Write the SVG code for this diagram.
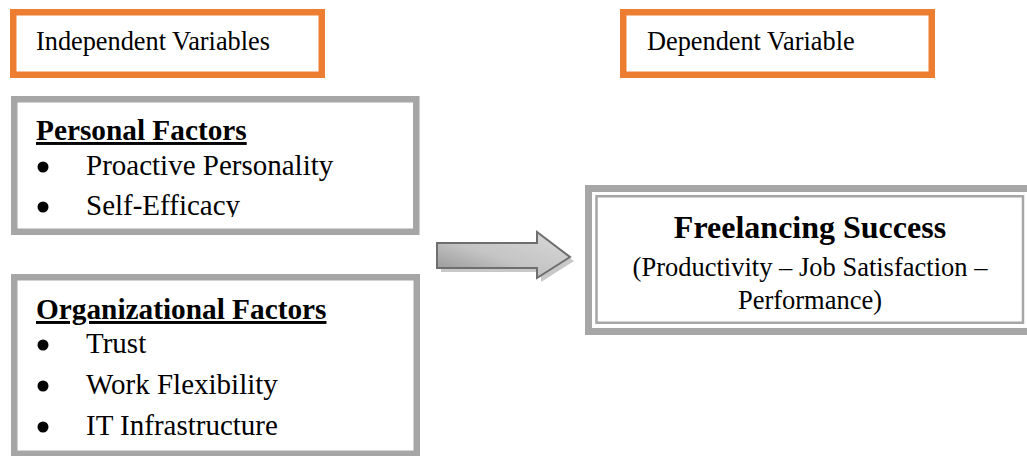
<svg xmlns="http://www.w3.org/2000/svg" width="1027" height="456" viewBox="0 0 1027 456">
<style>
.t{font-family:"Liberation Serif","Times New Roman",serif;fill:#000}
.hdr{font-size:26.3px}
.head{font-size:29.3px;font-weight:bold;text-decoration:underline}
.item{font-size:29px}
.orange{fill:#fff;stroke:#ed7d31;stroke-width:6.5}
.gray{fill:#fff;stroke:#a6a6a6;stroke-width:6.5}
.bul{fill:#000}
</style>
<defs>
<linearGradient id="ag" x1="0" y1="1" x2="1" y2="0">
<stop offset="0" stop-color="#8f8f8f"/>
<stop offset="0.45" stop-color="#c4c4c4"/>
<stop offset="1" stop-color="#d9d9d9"/>
</linearGradient>
<clipPath id="pclip"><rect x="17" y="102" width="397" height="115"/></clipPath>
</defs>
<rect width="1027" height="456" fill="#fff"/>
<g id="iv-label">
<rect class="orange" x="13.25" y="12.25" width="308.5" height="62.5"/>
<text class="t hdr" x="36" y="50">Independent Variables</text>
</g>
<g id="dv-label">
<rect class="orange" x="623.25" y="12.25" width="308.5" height="62.5"/>
<text class="t hdr" x="647" y="50">Dependent Variable</text>
</g>
<g id="personal">
<rect class="gray" x="14.25" y="99.25" width="402" height="132.5"/>
<g clip-path="url(#pclip)">
<text class="t head" x="36" y="140">Personal Factors</text>
<circle class="bul" cx="43" cy="167" r="5.5"/>
<text class="t item" x="86" y="175">Proactive Personality</text>
<circle class="bul" cx="43" cy="207" r="5.5"/>
<text class="t item" x="86" y="215">Self-Efficacy</text>
</g>
</g>
<g id="organizational">
<rect class="gray" x="14.25" y="277.25" width="402.5" height="176.5"/>
<text class="t head" x="36" y="319">Organizational Factors</text>
<circle class="bul" cx="43" cy="345" r="5.5"/>
<text class="t item" x="86" y="353">Trust</text>
<circle class="bul" cx="43" cy="386" r="5.5"/>
<text class="t item" x="86" y="394">Work Flexibility</text>
<circle class="bul" cx="43" cy="427" r="5.5"/>
<text class="t item" x="86" y="435">IT Infrastructure</text>
</g>
<g id="connectors">
<polygon points="441,247 541,247 541,236 574,261 541,282 541,272 441,272" fill="#c8c8c8"/>
<polygon points="437,243 537,243 537,232 570,257 537,278 537,268 437,268" fill="url(#ag)" stroke="#6e6e6e" stroke-width="2" stroke-linejoin="miter"/>
</g>
<g id="freelancing-success">
<rect x="588.5" y="188.5" width="442" height="143" fill="#fff" stroke="#a6a6a6" stroke-width="7"/>
<rect x="596.5" y="196.25" width="426.5" height="126.5" fill="#fff" stroke="#a6a6a6" stroke-width="2.5"/>
<text class="t" x="810" y="238" text-anchor="middle" font-size="32" font-weight="bold">Freelancing Success</text>
<text class="t" x="810" y="276" text-anchor="middle" font-size="26.5">(Productivity – Job Satisfaction –</text>
<text class="t" x="810" y="309" text-anchor="middle" font-size="26.5">Performance)</text>
</g>
</svg>
